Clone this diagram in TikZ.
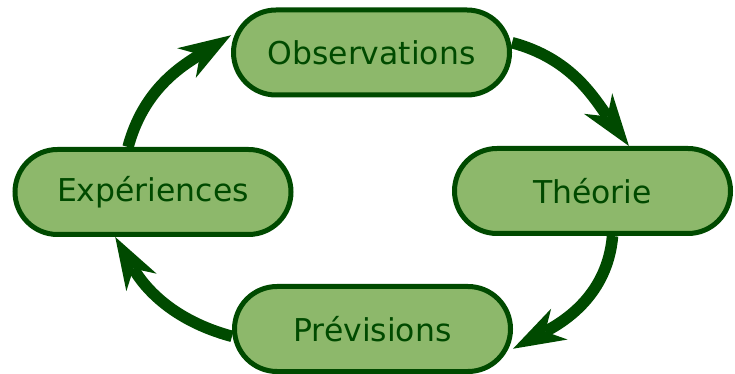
\documentclass[tikz,border=0pt]{standalone}
\usepackage{fontspec}
\setmainfont{DejaVu Sans}
\usetikzlibrary{arrows.meta}
\usepackage{xcolor}
\definecolor{leafgreen}{HTML}{8DB86B}
\definecolor{darkleaf}{HTML}{004A00}

\begin{document}
\begin{tikzpicture}[
  stage/.style={draw=darkleaf, fill=leafgreen, line width=0.1cm,
        rounded corners=0.85cm, minimum width=5.52cm, minimum height=1.7cm,
        font=\fontsize{17.9}{21}\selectfont, text=darkleaf},
  cyclearrow/.style={draw=darkleaf, line width=0.23cm,
        -{Stealth[length=1.05cm, width=0.7cm, inset=0.32cm, line width=0pt]}}
]
  \useasboundingbox (0,0) rectangle (14.7,7.48);

  % The four stages
  \node[stage] (obs)  at (7.43, 6.43) {Observations};
  \node[stage] (theo) at (11.85, 3.66) {Théorie};
  \node[stage] (prev) at (7.45, 0.90) {Prévisions};
  \node[stage] (exp)  at (3.06, 3.64) {Expériences};

  % The cycle
  \draw[cyclearrow] (obs.4)    to[out=-15, in=126] (theo.51);
  \draw[cyclearrow] (theo.-66) to[out=-95, in=28]  (prev.-8);
  \draw[cyclearrow] (prev.183) to[out=165, in=-60] (exp.230);
  \draw[cyclearrow] (exp.119)  to[out=75,  in=212] (obs.173);
\end{tikzpicture}
\end{document}
